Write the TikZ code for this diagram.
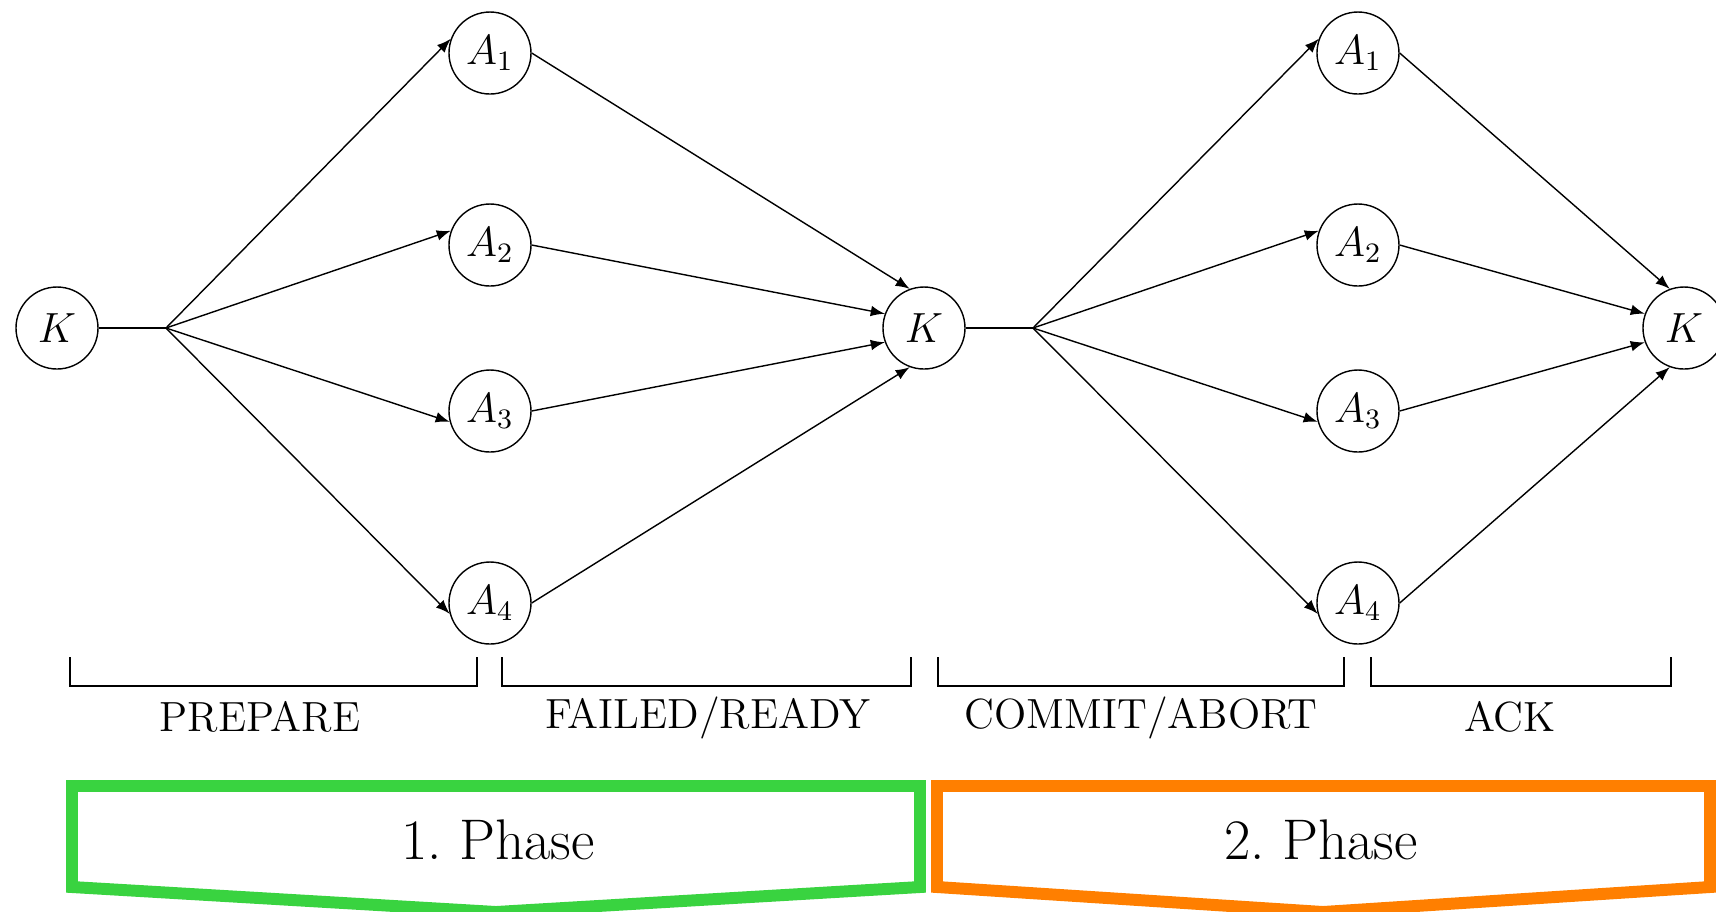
\documentclass[tikz,border=0pt]{standalone}
\usetikzlibrary{positioning}
\definecolor{phasegreen}{RGB}{57,211,64}
\definecolor{phaseorange}{RGB}{255,127,0}
\begin{document}
\begin{tikzpicture}

% definitions
\tikzstyle{station} = [circle, draw=black, thin, minimum size=0.82cm, inner sep=0pt, font=\fontsize{12}{14}\selectfont]
\tikzstyle{arrow} = [->,>=latex, thin]
\tikzstyle{line} = [-, thin]
\tikzstyle{msglabel} = [anchor=base, inner sep=0pt, font=\fontsize{12}{14}\selectfont]
\tikzstyle{chevron} = [line width=3.4pt, line join=miter]
\tikzstyle{phasetext} = [inner sep=0pt, font=\fontsize{16.3}{19}\selectfont]

\useasboundingbox (0,0) rectangle (17.16,-9.11);

% the graph
\node (k1) [station] at (0.57,-3.28) {$K$};
\coordinate (b1) at (1.66,-3.28);
\node (a1) [station] at (4.90,-0.53) {$A_1$};
\node (a2) [station] at (4.90,-2.45) {$A_2$};
\node (a3) [station] at (4.90,-4.11) {$A_3$};
\node (a4) [station] at (4.90,-6.03) {$A_4$};
\node (k2) [station, right of=k1, xshift=7.67cm] {$K$};
\coordinate (b2) at (10.33,-3.28);
\node (c1) [station] at (13.58,-0.53) {$A_1$};
\node (c2) [station] at (13.58,-2.45) {$A_2$};
\node (c3) [station] at (13.58,-4.11) {$A_3$};
\node (c4) [station] at (13.58,-6.03) {$A_4$};
\node (k3) [station, right of=k2, xshift=6.60cm] {$K$};


\draw [line] (k1) -- (b1);
\draw [arrow] (b1) -- (a1.160);
\draw [arrow] (b1) -- (a2.160);
\draw [arrow] (b1) -- (a3.195);
\draw [arrow] (b1) -- (a4.195);

\draw [arrow] (a1.east) -- (k2.110);
\draw [arrow] (a2.east) -- (k2.160);
\draw [arrow] (a3.east) -- (k2.200);
\draw [arrow] (a4.east) -- (k2.250);

\draw [line] (k2) -- (b2);
\draw [arrow] (b2) -- (c1.160);
\draw [arrow] (b2) -- (c2.160);
\draw [arrow] (b2) -- (c3.195);
\draw [arrow] (b2) -- (c4.195);

\draw [arrow] (c1.east) -- (k3.110);
\draw [arrow] (c2.east) -- (k3.160);
\draw [arrow] (c3.east) -- (k3.200);
\draw [arrow] (c4.east) -- (k3.250);


% brackets
\draw [line] (0.70,-6.57) -- (0.70,-6.86) -- (4.77,-6.86) -- (4.77,-6.57);
\draw [line] (5.02,-6.57) -- (5.02,-6.86) -- (9.11,-6.86) -- (9.11,-6.57);
\draw [line] (9.38,-6.57) -- (9.38,-6.86) -- (13.44,-6.86) -- (13.44,-6.57);
\draw [line] (13.71,-6.57) -- (13.71,-6.86) -- (16.71,-6.86) -- (16.71,-6.57);

\node (prepare) [msglabel] at (2.60,-7.31) {PREPARE};
\node (ready) [msglabel] at (7.08,-7.28) {FAILED/READY};
\node (commit) [msglabel] at (11.41,-7.28) {COMMIT/ABORT};
\node (ack) [msglabel] at (15.10,-7.31) {ACK};


% phases
\draw [chevron, draw=phasegreen] (0.72,-7.86) -- (9.20,-7.86) -- (9.20,-8.87) -- (4.96,-9.12) -- (0.72,-8.87) -- cycle;
\draw [chevron, draw=phaseorange] (9.37,-7.86) -- (17.10,-7.86) -- (17.10,-8.87) -- (13.23,-9.12) -- (9.37,-8.87) -- cycle;

\node (phase1) [phasetext] at (4.98,-8.40) {1.\ Phase};
\node (phase2) [phasetext] at (13.21,-8.40) {2.\ Phase};

\end{tikzpicture}
\end{document}
